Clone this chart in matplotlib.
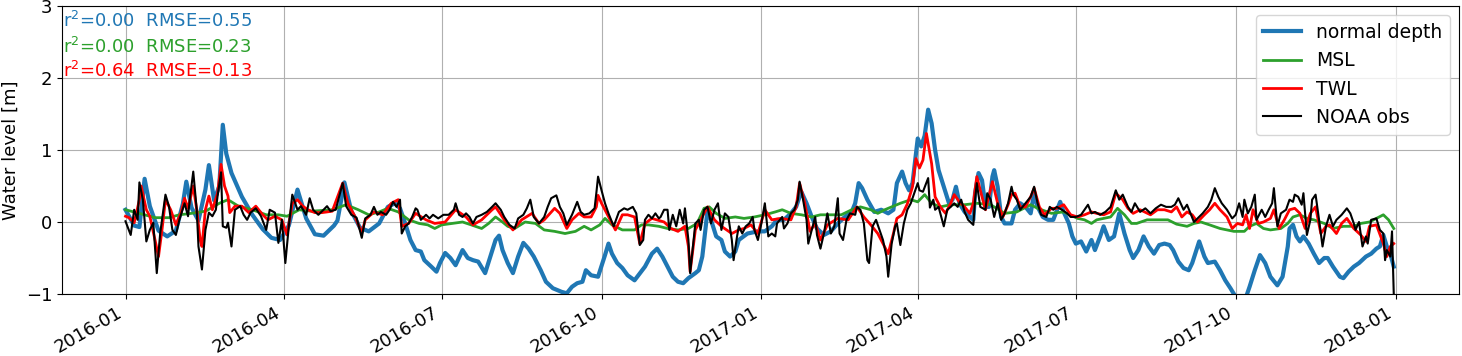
import matplotlib
matplotlib.use("Agg")
import matplotlib.pyplot as plt
import matplotlib.dates as mdates
from matplotlib.ticker import MultipleLocator
import pandas as pd

# days since 2016-01-01 and water level [m]
start = pd.Timestamp("2016-01-01")

blue_days = [0, 5, 8, 11, 14, 19, 24, 29, 33, 35, 38, 42, 46, 48, 51, 54, 56, 58, 61, 67,
             73, 79, 84, 89, 94, 99, 104, 109, 114, 120, 122, 126, 130, 135, 140, 146, 151, 155, 158, 161,
             164, 167, 170, 172, 176, 179, 181, 184, 187, 190, 194, 197, 200, 203, 207, 210, 213, 215, 217, 220,
             223, 226, 229, 232, 235, 239, 242, 246, 251, 254, 257, 260, 263, 265, 268, 272, 276, 278, 280, 283,
             286, 289, 293, 299, 303, 306, 309, 312, 315, 318, 321, 324, 328, 330, 332, 334, 335, 337, 340, 343,
             345, 348, 351, 353, 358, 364, 368, 372, 375, 379, 383, 386, 389, 392, 395, 398, 402, 406, 410, 414,
             418, 420, 422, 424, 427, 431, 435, 439, 442, 444, 447, 449, 451, 453, 456, 458, 460, 462, 464, 466,
             468, 471, 474, 476, 478, 480, 483, 486, 488, 489, 491, 493, 495, 497, 499, 500, 502, 504, 506, 510,
             512, 515, 518, 521, 523, 525, 528, 531, 534, 538, 540, 543, 545, 547, 550, 553, 556, 558, 561, 563,
             566, 569, 572, 575, 578, 580, 583, 586, 589, 592, 595, 598, 601, 603, 606, 609, 612, 614, 618, 621,
             623, 627, 630, 633, 636, 639, 642, 645, 647, 650, 653, 656, 659, 663, 666, 669, 670, 672, 674, 676,
             678, 681, 684, 687, 690, 692, 695, 699, 701, 704, 707, 710, 714, 717, 720, 722, 724, 726, 728, 730]
blue_vals = [0.17, -0.05, -0.07, 0.60, 0.22, -0.12, -0.20, -0.12, 0.25, 0.56, 0.20, 0.02, 0.45, 0.79, 0.30, 0.50, 1.35, 0.95, 0.68, 0.35,
             0.10, -0.10, -0.22, -0.25, -0.05, 0.45, 0.05, -0.17, -0.19, -0.05, 0.02, 0.55, 0.15, -0.08, -0.13, -0.02, 0.21, 0.26, 0.19, -0.02,
             -0.25, -0.39, -0.41, -0.53, -0.62, -0.69, -0.57, -0.43, -0.50, -0.60, -0.39, -0.50, -0.53, -0.55, -0.71, -0.48, -0.25, -0.19, -0.39, -0.57,
             -0.71, -0.48, -0.29, -0.37, -0.48, -0.67, -0.83, -0.92, -0.97, -0.99, -0.90, -0.85, -0.83, -0.67, -0.74, -0.76, -0.46, -0.30, -0.44, -0.57,
             -0.64, -0.74, -0.81, -0.62, -0.44, -0.37, -0.48, -0.62, -0.76, -0.83, -0.85, -0.78, -0.71, -0.67, -0.48, -0.06, 0.17, 0.03, -0.20, -0.25,
             -0.41, -0.48, -0.41, -0.25, -0.16, -0.13, -0.13, -0.06, 0.03, 0.03, 0.12, 0.21, 0.42, 0.26, 0.07, -0.09, -0.18, -0.13, -0.02, 0.07,
             0.14, 0.26, 0.54, 0.47, 0.31, 0.14, 0.17, 0.12, 0.17, 0.54, 0.70, 0.54, 0.44, 0.54, 1.16, 1.05, 1.20, 1.56, 1.37, 1.00,
             0.72, 0.49, 0.26, 0.31, 0.49, 0.26, 0.14, 0.07, 0.03, 0.40, 0.68, 0.58, 0.21, 0.21, 0.63, 0.72, 0.49, 0.07, -0.02, -0.02,
             0.17, 0.26, 0.21, 0.12, 0.40, 0.21, 0.07, 0.03, 0.03, 0.28, 0.14, -0.02, -0.20, -0.30, -0.27, -0.41, -0.25, -0.39, -0.20, -0.06,
             -0.25, -0.20, 0.12, -0.16, -0.39, -0.50, -0.39, -0.20, -0.34, -0.44, -0.32, -0.30, -0.32, -0.39, -0.55, -0.64, -0.67, -0.57, -0.27, -0.48,
             -0.57, -0.55, -0.67, -0.81, -0.92, -1.04, -1.08, -1.04, -0.90, -0.67, -0.46, -0.57, -0.76, -0.88, -0.76, -0.34, -0.09, -0.04, -0.20, -0.27,
             -0.20, -0.30, -0.44, -0.57, -0.50, -0.50, -0.62, -0.76, -0.78, -0.69, -0.62, -0.57, -0.48, -0.44, -0.37, -0.34, -0.18, -0.34, -0.44, -0.62]

green_days = [0, 8, 17, 25, 31, 38, 46, 54, 59, 65, 73, 81, 88, 93, 100, 107, 119, 127, 134, 140,
              146, 151, 157, 163, 169, 174, 178, 182, 188, 194, 199, 205, 209, 213, 217, 220, 224, 230, 236, 241,
              247, 253, 259, 264, 268, 273, 276, 280, 286, 293, 297, 301, 307, 312, 318, 324, 329, 333, 336, 340,
              345, 351, 356, 362, 368, 374, 378, 383, 389, 395, 400, 406, 412, 418, 423, 429, 433, 437, 441, 446,
              452, 456, 460, 464, 469, 475, 483, 490, 498, 506, 513, 521, 525, 533, 540, 548, 552, 556, 559, 563,
              567, 571, 575, 579, 582, 588, 594, 600, 605, 611, 615, 619, 624, 630, 638, 644, 647, 651, 655, 659,
              665, 669, 672, 676, 680, 684, 690, 695, 701, 707, 711, 716, 720, 724, 727, 730]
green_vals = [0.17, 0.12, 0.06, 0.06, 0.10, 0.12, 0.15, 0.26, 0.31, 0.22, 0.17, 0.10, 0.10, 0.08, 0.17, 0.15, 0.17, 0.24, 0.17, 0.10,
              0.14, 0.19, 0.14, 0.03, -0.02, -0.04, -0.09, -0.04, -0.02, 0.00, -0.04, -0.09, -0.02, 0.07, 0.00, -0.06, -0.09, 0.00, -0.02, -0.11,
              -0.13, -0.16, -0.13, -0.06, -0.11, -0.04, 0.05, -0.04, -0.11, -0.11, -0.04, -0.04, -0.06, -0.09, -0.11, -0.09, -0.02, 0.19, 0.21, 0.12,
              0.05, 0.07, 0.05, 0.07, 0.10, 0.14, 0.17, 0.12, 0.10, 0.07, 0.10, 0.10, 0.10, 0.17, 0.21, 0.17, 0.12, 0.17, 0.21, 0.26,
              0.31, 0.28, 0.38, 0.26, 0.21, 0.24, 0.24, 0.26, 0.24, 0.12, 0.14, 0.24, 0.19, 0.12, 0.14, 0.05, 0.03, -0.02, 0.03, 0.05,
              0.07, 0.19, 0.10, -0.02, -0.02, 0.03, 0.03, 0.03, -0.03, -0.06, -0.02, 0.00, -0.04, -0.09, -0.13, -0.13, -0.06, -0.02, -0.09, -0.11,
              -0.09, -0.02, 0.07, 0.10, 0.05, 0.03, -0.02, -0.09, -0.06, -0.06, -0.02, 0.00, 0.05, 0.10, 0.03, -0.09]

red_days = [0, 2, 5, 8, 9, 12, 14, 17, 19, 21, 23, 26, 29, 32, 34, 36, 39, 41, 43, 44,
            46, 48, 50, 53, 55, 57, 59, 60, 63, 67, 71, 75, 79, 82, 86, 90, 93, 96, 99, 102,
            105, 109, 113, 119, 125, 128, 132, 136, 138, 143, 148, 153, 157, 159, 163, 167, 173, 178, 184, 190,
            196, 200, 205, 211, 213, 218, 223, 228, 234, 238, 241, 247, 250, 254, 257, 261, 264, 268, 271, 272,
            274, 277, 282, 286, 289, 293, 296, 299, 303, 310, 314, 318, 322, 324, 325, 328, 333, 335, 339, 343,
            349, 353, 356, 360, 364, 368, 372, 377, 383, 386, 388, 391, 394, 397, 400, 404, 410, 416, 421, 425,
            429, 433, 436, 439, 442, 444, 447, 450, 453, 455, 457, 459, 461, 464, 466, 469, 472, 475, 477, 480,
            483, 486, 488, 490, 493, 495, 499, 502, 505, 508, 510, 512, 515, 518, 521, 523, 526, 529, 533, 536,
            540, 544, 548, 552, 556, 559, 563, 567, 570, 574, 577, 580, 584, 590, 594, 598, 602, 605, 608, 611,
            614, 617, 621, 624, 627, 630, 634, 637, 640, 643, 645, 647, 649, 652, 655, 659, 661, 664, 667, 670,
            673, 676, 679, 682, 685, 688, 691, 693, 697, 700, 703, 707, 711, 714, 716, 720, 724, 726, 728, 730]
red_vals = [0.08, 0.06, -0.01, 0.31, 0.50, 0.17, 0.08, -0.25, -0.48, -0.11, 0.31, 0.17, -0.04, 0.13, 0.33, 0.19, 0.50, 0.17, -0.25, -0.34,
            0.17, 0.36, 0.17, 0.40, 0.80, 0.50, 0.36, 0.13, 0.22, 0.22, 0.13, 0.22, 0.10, 0.03, 0.08, 0.03, -0.18, 0.26, 0.31, 0.22,
            0.17, 0.13, 0.13, 0.15, 0.54, 0.26, 0.08, -0.15, 0.03, 0.14, 0.10, 0.26, 0.31, -0.06, -0.02, 0.12, 0.03, -0.02, 0.00, 0.17,
            0.07, -0.04, 0.03, 0.17, 0.21, 0.03, -0.11, 0.03, 0.12, -0.02, 0.03, 0.19, 0.12, -0.09, 0.03, 0.12, 0.07, 0.07, 0.21, 0.37,
            0.26, 0.12, -0.11, 0.10, 0.10, 0.07, -0.30, -0.02, 0.05, 0.00, -0.09, -0.13, -0.06, -0.34, -0.69, -0.11, 0.12, 0.21, 0.03, -0.06,
            -0.16, -0.11, -0.09, -0.04, -0.16, 0.17, 0.03, 0.05, 0.03, 0.21, 0.54, 0.26, -0.13, -0.02, -0.25, -0.04, 0.05, 0.03, 0.21, 0.07,
            -0.04, -0.16, -0.30, -0.44, -0.16, 0.05, 0.10, 0.25, 0.49, 0.88, 0.75, 0.86, 1.23, 0.81, 0.35, 0.21, 0.12, 0.26, 0.38, 0.28,
            0.21, 0.12, 0.26, 0.63, 0.35, 0.17, 0.56, 0.26, 0.07, 0.24, 0.38, 0.40, 0.21, 0.21, 0.35, 0.47, 0.21, 0.10, 0.19, 0.19,
            0.24, 0.10, 0.07, 0.10, 0.14, 0.12, 0.10, 0.14, 0.40, 0.31, 0.19, 0.12, 0.17, 0.10, 0.17, 0.17, 0.14, 0.21, 0.07, 0.14,
            0.10, 0.00, 0.10, 0.17, 0.26, 0.17, 0.07, -0.09, -0.02, -0.04, 0.10, -0.09, 0.17, -0.02, 0.00, 0.05, 0.17, -0.09, 0.03, 0.17,
            0.19, 0.12, -0.09, 0.12, 0.21, -0.16, -0.06, -0.04, -0.16, -0.02, 0.05, -0.09, -0.18, -0.27, -0.06, -0.04, -0.30, -0.48, -0.34, -0.30]

obs_days = [0, 3, 5, 7, 8, 10, 12, 14, 16, 18, 20, 23, 25, 27, 29, 31, 34, 36, 37, 39,
            41, 42, 44, 46, 48, 50, 52, 53, 55, 56, 58, 59, 61, 63, 66, 68, 70, 72, 75, 78,
            81, 83, 86, 88, 90, 92, 94, 96, 99, 101, 104, 106, 108, 111, 114, 116, 118, 121, 125, 127,
            130, 133, 136, 138, 141, 143, 145, 147, 150, 152, 154, 156, 158, 159, 161, 163, 165, 167, 168, 170,
            173, 175, 177, 180, 183, 186, 189, 190, 192, 194, 196, 198, 200, 202, 205, 208, 211, 213, 216, 218,
            221, 224, 226, 229, 231, 233, 235, 238, 241, 243, 245, 248, 250, 252, 254, 257, 260, 262, 264, 267,
            270, 271, 272, 274, 276, 278, 281, 284, 287, 289, 292, 294, 296, 298, 299, 301, 303, 305, 307, 308,
            310, 312, 313, 315, 317, 319, 321, 322, 324, 325, 326, 328, 330, 331, 333, 335, 337, 339, 341, 343,
            345, 347, 349, 350, 352, 353, 355, 357, 359, 361, 362, 364, 366, 368, 370, 372, 374, 375, 378, 379,
            381, 383, 385, 387, 388, 390, 392, 393, 395, 397, 398, 400, 402, 404, 406, 408, 410, 411, 413, 415,
            417, 420, 421, 423, 425, 427, 428, 430, 432, 434, 436, 438, 439, 441, 443, 444, 446, 448, 450, 452,
            454, 456, 457, 459, 462, 463, 465, 466, 468, 471, 473, 475, 477, 479, 481, 483, 485, 488, 489, 490,
            492, 495, 496, 498, 500, 502, 504, 506, 508, 510, 511, 513, 515, 518, 521, 523, 525, 527, 530, 532,
            534, 536, 539, 542, 544, 547, 550, 552, 554, 556, 558, 561, 564, 567, 570, 572, 574, 577, 579, 581,
            584, 587, 590, 593, 596, 599, 602, 604, 606, 609, 611, 613, 615, 620, 623, 625, 627, 629, 631, 634,
            637, 639, 641, 643, 644, 646, 648, 650, 651, 654, 656, 658, 660, 661, 663, 665, 668, 670, 672, 673,
            675, 677, 678, 680, 682, 683, 685, 687, 689, 691, 693, 695, 697, 700, 703, 705, 707, 708, 710, 712,
            714, 715, 717, 720, 722, 724, 725, 726, 728, 729, 730, 731]
obs_vals = [0.01, -0.18, 0.17, 0.03, 0.55, 0.31, -0.27, -0.11, -0.01, -0.71, -0.15, 0.38, 0.22, -0.11, -0.18, 0.03, 0.26, 0.08, 0.31, 0.70,
            0.17, -0.34, -0.66, -0.11, 0.13, 0.08, 0.17, 0.36, 0.69, -0.06, -0.08, -0.01, -0.34, 0.17, 0.22, 0.10, 0.03, 0.13, 0.19, 0.08,
            -0.11, 0.17, 0.13, -0.29, 0.03, -0.57, -0.06, 0.38, 0.17, 0.22, 0.10, 0.33, 0.17, 0.10, 0.17, 0.22, 0.15, 0.17, 0.54, 0.22,
            0.10, 0.06, -0.22, 0.05, 0.10, 0.21, 0.10, 0.14, 0.10, 0.17, 0.28, 0.21, 0.31, -0.16, -0.06, -0.02, 0.07, 0.19, 0.17, 0.03,
            0.10, 0.05, 0.10, 0.05, 0.10, 0.10, 0.17, 0.26, 0.10, 0.07, 0.12, 0.07, -0.02, 0.07, 0.10, 0.14, 0.21, 0.26, 0.17, 0.07,
            -0.04, -0.09, 0.05, 0.10, 0.19, 0.31, 0.07, -0.02, 0.07, 0.21, 0.33, 0.37, 0.21, 0.12, -0.04, 0.10, 0.28, 0.14, 0.10, 0.12,
            0.19, 0.40, 0.63, 0.44, 0.26, 0.12, -0.06, 0.14, 0.19, 0.17, 0.21, 0.12, -0.32, -0.25, 0.03, 0.10, 0.05, 0.12, 0.05, 0.07,
            0.17, 0.17, -0.11, 0.10, -0.06, 0.17, -0.02, 0.19, -0.25, -0.71, -0.48, -0.02, 0.03, -0.11, 0.17, 0.21, -0.02, 0.17, 0.26, -0.11,
            0.12, 0.07, -0.25, -0.53, -0.20, -0.06, -0.16, -0.06, -0.02, 0.07, -0.11, -0.25, -0.02, 0.26, -0.20, -0.16, -0.20, -0.02, 0.07, -0.09,
            -0.02, 0.12, 0.17, 0.31, 0.56, 0.31, 0.03, -0.30, -0.11, 0.07, -0.18, -0.37, -0.16, 0.12, -0.16, -0.06, 0.33, -0.16, -0.25, 0.03,
            0.12, 0.10, 0.21, 0.17, -0.02, -0.53, -0.57, -0.06, 0.03, -0.11, -0.25, -0.48, -0.76, -0.30, -0.06, -0.02, -0.32, -0.02, 0.17, 0.26,
            0.40, 0.54, 0.44, 0.42, 0.61, 0.20, 0.31, 0.17, 0.21, -0.06, 0.17, 0.21, 0.26, 0.21, 0.31, 0.14, 0.03, -0.04, 0.31, 0.54,
            0.21, 0.17, 0.40, 0.31, 0.07, 0.26, 0.03, 0.12, 0.26, 0.49, 0.38, 0.31, 0.17, 0.26, 0.35, 0.49, 0.26, 0.10, 0.07, 0.21,
            0.17, 0.21, 0.17, 0.12, 0.07, 0.07, 0.10, 0.17, 0.24, 0.12, 0.14, 0.10, 0.14, 0.21, 0.44, 0.31, 0.38, 0.21, 0.14, 0.26,
            0.14, 0.19, 0.12, 0.19, 0.24, 0.21, 0.21, 0.24, 0.33, 0.17, 0.24, 0.12, 0.00, 0.12, 0.21, 0.31, 0.47, 0.35, 0.26, 0.17,
            0.05, 0.10, 0.26, 0.07, 0.31, 0.12, 0.21, 0.38, 0.03, 0.17, 0.07, 0.17, 0.26, 0.47, -0.06, 0.12, 0.17, 0.31, 0.28, 0.38,
            0.35, 0.24, 0.40, -0.18, 0.03, 0.31, 0.38, 0.03, -0.34, -0.06, 0.10, -0.06, 0.03, 0.10, 0.19, 0.12, -0.02, -0.11, 0.00, -0.34,
            -0.20, -0.30, 0.03, 0.05, -0.11, -0.16, -0.53, -0.39, -0.48, -0.13, -1.00, -1.40]

stats_text = ["r$^2$=0.00  RMSE=0.55", "r$^2$=0.00  RMSE=0.23", "r$^2$=0.64  RMSE=0.13"]
stats_colors = ["tab:blue", "tab:green", "red"]


def to_dates(days):
    return start + pd.to_timedelta(days, unit="D")


plt.rcParams["font.size"] = 13

fig = plt.figure(figsize=(14.62, 3.56), dpi=100)
ax = fig.add_axes([62 / 1462, 62 / 356, 1397 / 1462, 288 / 356])

ax.plot(to_dates(blue_days), blue_vals, color="tab:blue", lw=3, label="normal depth")
ax.plot(to_dates(green_days), green_vals, color="tab:green", lw=2, label="MSL")
ax.plot(to_dates(red_days), red_vals, color="red", lw=2, label="TWL")
ax.plot(to_dates(obs_days), obs_vals, color="black", lw=1.5, label="NOAA obs")

ax.set_ylim(-1, 3)
ax.yaxis.set_major_locator(MultipleLocator(1))
ax.set_ylabel("Water level [m]")
ax.xaxis.set_major_locator(mdates.MonthLocator(bymonth=[1, 4, 7, 10]))
ax.xaxis.set_major_formatter(mdates.DateFormatter("%Y-%m"))
for lab in ax.get_xticklabels():
    lab.set_rotation(30)
    lab.set_ha("right")
ax.grid(True)

ypos = [0.927, 0.837, 0.753]
for txt, col, yy in zip(stats_text, stats_colors, ypos):
    ax.text(0.001, yy, txt, color=col, fontsize=13, transform=ax.transAxes, va="baseline")

ax.legend(loc="upper right", fontsize=13.5)

fig.savefig("out.png", dpi=100)
